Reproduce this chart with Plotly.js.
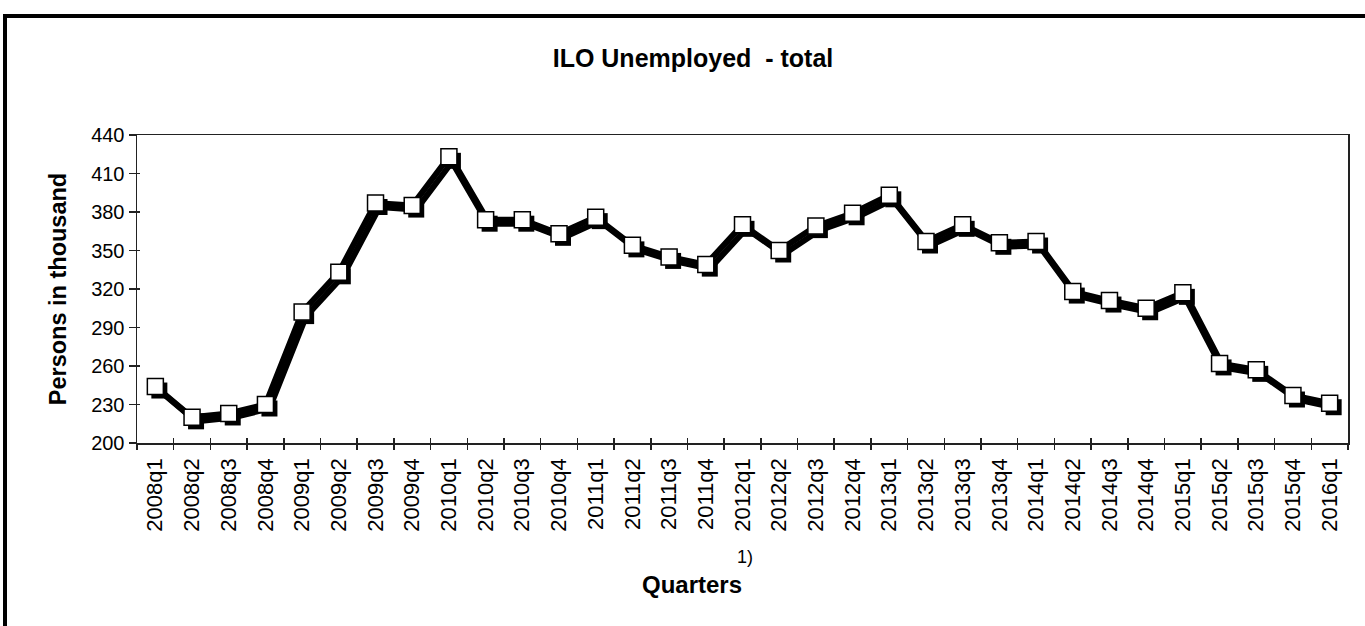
<!DOCTYPE html>
<html><head><meta charset="utf-8">
<script src="https://cdn.plot.ly/plotly-3.0.1.min.js"></script>
<style>
html,body{margin:0;padding:0;background:#fff;overflow:hidden}
#chart{width:1365px;height:626px;position:absolute;left:0;top:0}
#frame{position:absolute;left:3px;top:14px;width:1420px;height:720px;border:4px solid #000;pointer-events:none}
</style></head><body>
<div id="chart"></div><div id="frame"></div>
<script>
const quarters = ["2008q1","2008q2","2008q3","2008q4","2009q1","2009q2","2009q3","2009q4",
  "2010q1","2010q2","2010q3","2010q4","2011q1","2011q2","2011q3","2011q4",
  "2012q1","2012q2","2012q3","2012q4","2013q1","2013q2","2013q3","2013q4",
  "2014q1","2014q2","2014q3","2014q4","2015q1","2015q2","2015q3","2015q4","2016q1"];
const unemployed = [244,220,223,230,302,333,387,385,
  423,374,374,363,376,354,345,339,
  370,350,369,379,393,357,370,356,
  357,318,311,305,317,262,257,237,231];
const yTicks = [200,230,260,290,320,350,380,410,440];

const FONT = 'Liberation Sans, Arial, sans-serif';
const xRange = [-0.5, 32.5];
const yRange = [200, 440];
const ML = 137, MR = 17, MT = 135, MB = 183;
const plotW = 1365 - ML - MR, plotH = 626 - MT - MB;
// shadow offset (in px) converted to axis units
const sx = 4 * (xRange[1] - xRange[0]) / plotW;
const sy = 4 * (yRange[1] - yRange[0]) / plotH;

const traces = [
  { x: quarters, y: unemployed, xaxis: 'x', yaxis: 'y', type: 'scatter', mode: 'markers',
    marker: {opacity: 0}, hoverinfo: 'skip', showlegend: false },
  { x: quarters, y: unemployed, xaxis: 'x2', yaxis: 'y2', type: 'scatter', mode: 'lines+markers',
    line: {color: '#000', width: 6}, marker: {symbol: 'square', size: 16, color: '#000'},
    hoverinfo: 'skip', showlegend: false },
  { x: quarters, y: unemployed, xaxis: 'x3', yaxis: 'y3', type: 'scatter', mode: 'lines+markers',
    line: {color: '#000', width: 6},
    marker: {symbol: 'square', size: 16, color: '#fff', line: {color: '#000', width: 1.5}},
    showlegend: false }
];

const layout = {
  width: 1365, height: 626,
  margin: {l: ML, r: MR, t: MT, b: MB},
  paper_bgcolor: '#fff', plot_bgcolor: '#fff',
  font: {family: FONT, color: '#000'},
  showlegend: false,
  title: {text: '<b>ILO Unemployed  - total</b>', font: {size: 25, family: FONT, color: '#000'},
    xref: 'container', x: 693 / 1365, xanchor: 'center', yref: 'container', y: 1 - 58/626, yanchor: 'middle'},
  xaxis: {type: 'category', range: xRange, tickson: 'boundaries', ticks: 'outside', ticklen: 5,
    tickwidth: 1.5, tickcolor: '#222', tickangle: -90, tickfont: {size: 22, family: FONT},
    ticklabelstandoff: 5,
    showline: true, mirror: true, linecolor: '#222', linewidth: 1.5, showgrid: false, zeroline: false},
  yaxis: {range: yRange, tickvals: yTicks, ticks: 'outside', ticklen: 7, tickwidth: 1.5, tickcolor: '#222',
    tickfont: {size: 20, family: FONT}, showline: true, mirror: true, linecolor: '#222', linewidth: 1.5,
    showgrid: false, zeroline: false,
    title: {text: '<b>Persons in thousand</b>', font: {size: 23.5, family: FONT}, standoff: 18}},
  xaxis2: {type: 'category', overlaying: 'x', range: [xRange[0] - sx, xRange[1] - sx], visible: false},
  yaxis2: {overlaying: 'y', range: [yRange[0] + sy, yRange[1] + sy], visible: false},
  xaxis3: {type: 'category', overlaying: 'x', range: xRange, tickson: 'boundaries', ticks: 'inside',
    ticklen: 5, tickwidth: 1.5, tickcolor: '#222', showticklabels: false, showline: false,
    showgrid: false, zeroline: false},
  yaxis3: {overlaying: 'y', range: yRange, tickvals: yTicks, ticks: 'inside', ticklen: 3, tickwidth: 1.5,
    tickcolor: '#222', showticklabels: false, showline: false, showgrid: false, zeroline: false},
  annotations: [
    {text: '<b>Quarters</b>', xref: 'paper', yref: 'paper', x: (692 - ML) / plotW, y: -(584 - (626 - MB)) / plotH,
     xanchor: 'center', yanchor: 'middle', showarrow: false, font: {size: 24, family: FONT}},
    {text: '1)', xref: 'paper', yref: 'paper', x: (745 - ML) / plotW, y: -(557 - (626 - MB)) / plotH,
     xanchor: 'center', yanchor: 'middle', showarrow: false, font: {size: 18, family: FONT}}
  ]
};

Plotly.newPlot('chart', traces, layout, {staticPlot: true, displayModeBar: false});
</script>
</body></html>
